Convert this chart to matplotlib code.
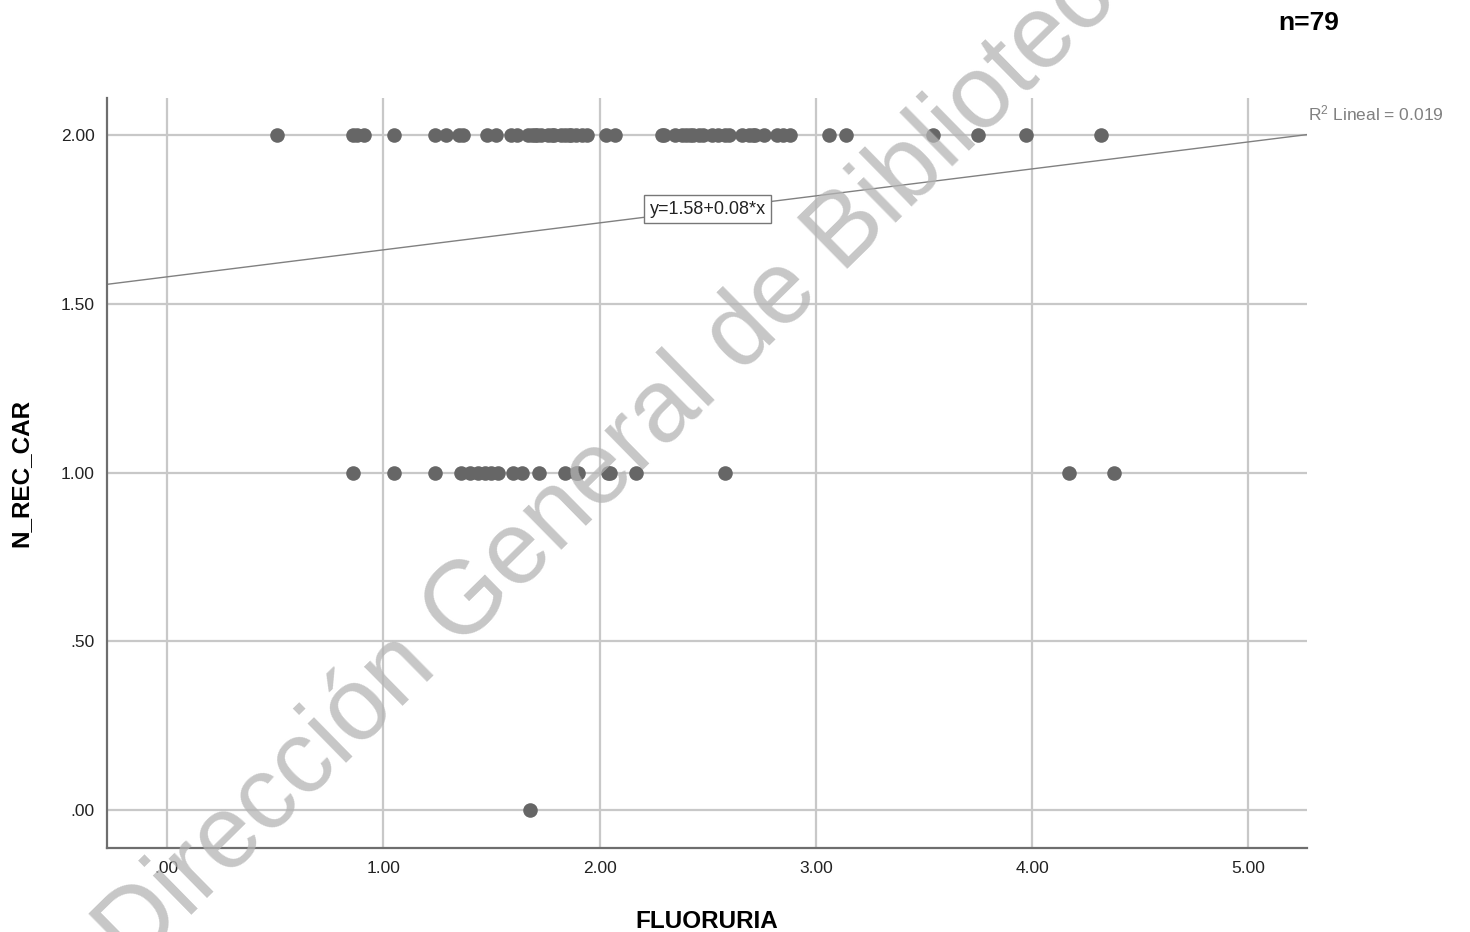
import numpy as np
import matplotlib.pyplot as plt

plt.rcParams['font.family'] = ['Liberation Sans', 'DejaVu Sans']

# FLUORURIA values by N_REC_CAR group
fluor_2 = [0.51, 0.86, 0.88, 0.91, 1.05, 1.24, 1.29, 1.35, 1.37, 1.48, 1.52, 1.59, 1.62,
           1.67, 1.69, 1.70, 1.71, 1.73, 1.76, 1.78, 1.79, 1.82, 1.84, 1.86, 1.87, 1.89,
           1.92, 1.94, 2.03, 2.07,
           2.29, 2.30, 2.35, 2.38, 2.40, 2.42, 2.43, 2.46, 2.48, 2.52, 2.55, 2.58, 2.60,
           2.66, 2.69, 2.71, 2.72, 2.76, 2.82, 2.85, 2.88, 3.06, 3.14, 3.54, 3.75, 3.97, 4.32]
fluor_1 = [0.86, 1.05, 1.24, 1.36, 1.40, 1.44, 1.47, 1.50, 1.53, 1.60, 1.64, 1.72,
           1.84, 1.89, 1.90, 2.04, 2.05, 2.17, 2.58, 4.17, 4.38]
fluor_0 = [1.68]

intercept = 1.58
slope = 0.08
r2 = 0.019

xticks = [0, 1, 2, 3, 4, 5]
xticklabels = ['.00', '1.00', '2.00', '3.00', '4.00', '5.00']
yticks = [0, 0.5, 1, 1.5, 2]
yticklabels = ['.00', '.50', '1.00', '1.50', '2.00']

x = np.array(fluor_2 + fluor_1 + fluor_0)
y = np.array([2.0] * len(fluor_2) + [1.0] * len(fluor_1) + [0.0] * len(fluor_0))

fig = plt.figure(figsize=(14.7, 9.32), dpi=100)
ax = fig.add_axes([0.0728, 0.0901, 0.8162, 0.8047])

xmin, xmax = -0.277, 5.27
ax.set_xlim(xmin, xmax)
ax.set_ylim(-0.113, 2.11)

ax.set_xticks(xticks)
ax.set_xticklabels(xticklabels)
ax.set_yticks(yticks)
ax.set_yticklabels(yticklabels)
ax.tick_params(length=0, labelsize=12.5, colors='#222222', pad=9)
ax.grid(True, color='#c8c8c8', linewidth=1.6)
ax.set_axisbelow(True)
for s in ['top', 'right']:
    ax.spines[s].set_visible(False)
for s in ['left', 'bottom']:
    ax.spines[s].set_color('#6e6e6e')
    ax.spines[s].set_linewidth(1.6)

ax.scatter(x, y, s=110, color='#666666', zorder=3, linewidths=0)

lx = np.array([xmin, xmax])
ax.plot(lx, intercept + slope * lx, color='#808080', linewidth=1.0, zorder=2)

ax.text(2.5, intercept + slope * 2.5, 'y=1.58+0.08*x', ha='center', va='center', fontsize=13,
        color='#222222', bbox=dict(boxstyle='square,pad=0.3', fc='white', ec='#777777', lw=1), zorder=4)

fig.text(0.890, 0.878, '$\\mathregular{R^2}$ Lineal = 0.019', fontsize=12.5, color='#808080', ha='left', va='center')
fig.text(0.89, 0.975, 'n=79', fontsize=19, fontweight='bold', ha='center', va='center')

ax.set_xlabel('FLUORURIA', fontsize=17.5, fontweight='bold', labelpad=25)
ax.set_ylabel('N_REC_CAR', fontsize=17.5, fontweight='bold', labelpad=20)

# watermark
fig.text(0.091, -0.042, 'Dirección General de Bibliotecas', fontsize=74, color='#b4b4b4', alpha=0.75,
         rotation=44.5, rotation_mode='anchor', ha='left', va='baseline', zorder=10)

fig.savefig('out.png', dpi=100)
